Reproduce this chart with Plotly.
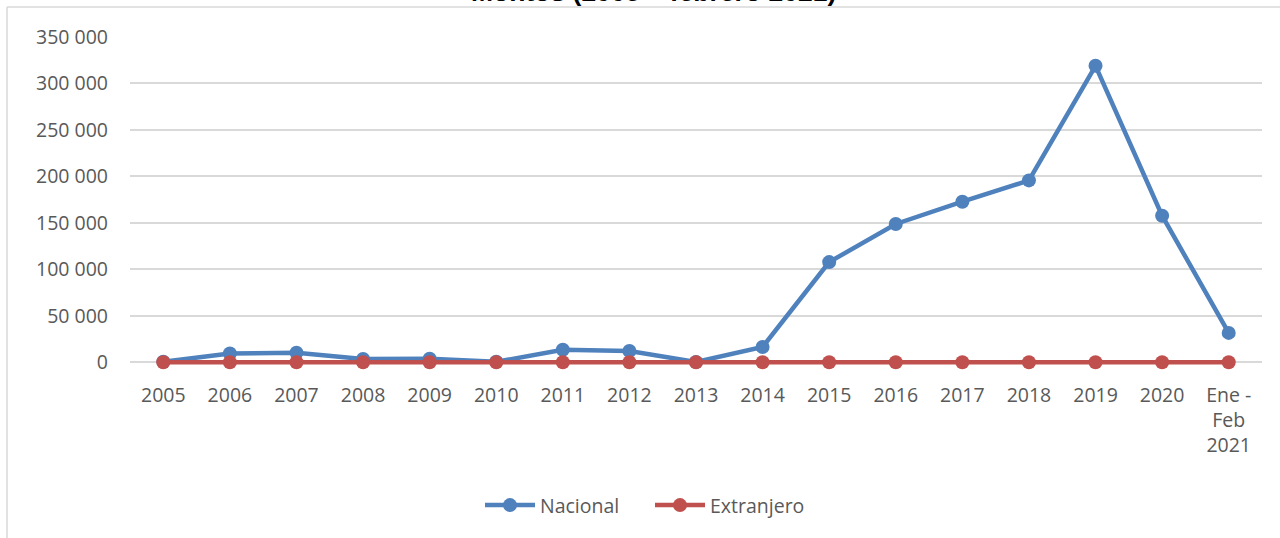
import plotly.graph_objects as go

# Categories and series values
years = ["2005", "2006", "2007", "2008", "2009", "2010", "2011", "2012",
         "2013", "2014", "2015", "2016", "2017", "2018", "2019", "2020",
         "Ene -<br>Feb<br>2021"]
nacional = [500, 9500, 10300, 3500, 3900, 500, 13500, 12200, 300, 16500,
            107800, 148800, 172800, 195700, 319000, 157700, 31600]
extranjero = [0] * 17
y_ticks = [0, 50000, 100000, 150000, 200000, 250000, 300000, 350000]

W, H = 1280, 538
Y_TOP_PX, Y_ZERO_PX = 37, 362          # pixel rows of 350 000 and 0
Y_MAX, Y_PAD = 350000, 4000            # small pad keeps the 0-level line unclipped
px_per_unit = (Y_ZERO_PX - Y_TOP_PX) / Y_MAX
L, R, T = 130, 18, Y_TOP_PX
B = H - (Y_ZERO_PX + Y_PAD * px_per_unit)
PW, PH = W - L - R, H - T - B


def px_x(x):
    return (x - L) / PW


def px_y(y):
    return (H - B - y) / PH


FONT = "Open Sans"
GREY = "#595959"
FS = 19.5

fig = go.Figure()
fig.add_trace(go.Scatter(
    x=years, y=nacional, name="Nacional", mode="lines+markers",
    line=dict(color="#4F81BD", width=4.5),
    marker=dict(color="#4F81BD", size=14),
    cliponaxis=False,
))
fig.add_trace(go.Scatter(
    x=years, y=extranjero, name="Extranjero", mode="lines+markers",
    line=dict(color="#C0504D", width=4.5),
    marker=dict(color="#C0504D", size=14),
    cliponaxis=False,
))

fig.update_layout(
    width=W, height=H,
    margin=dict(l=L, r=R, t=T, b=B),
    paper_bgcolor="white", plot_bgcolor="white",
    separators=", ",
    font=dict(family=FONT, size=FS, color=GREY),
    showlegend=True,
    legend=dict(orientation="h", x=px_x(650), xanchor="center",
                y=px_y(505), yanchor="middle", itemwidth=50,
                entrywidth=105,
                font=dict(family=FONT, size=FS, color=GREY)),
    xaxis=dict(type="category", range=[-0.5, 16.5], showgrid=False,
               showline=False, ticks="", zeroline=False,
               ticklabelstandoff=15,
               tickfont=dict(family=FONT, size=FS, color=GREY)),
    yaxis=dict(range=[-Y_PAD, Y_MAX], tickvals=y_ticks, tickformat=",d",
               showgrid=True, gridcolor="#d9d9d9", gridwidth=1.5,
               zeroline=False, showline=False, ticks="",
               ticklabelstandoff=21,
               tickfont=dict(family=FONT, size=FS, color=GREY)),
    annotations=[dict(
        text="<b>Montos (2005 – febrero 2021)</b>",
        xref="paper", yref="paper", x=px_x(653), y=px_y(9),
        xanchor="center", yanchor="bottom", showarrow=False,
        font=dict(family="Liberation Sans", size=26.5, color="black"),
    )],
    shapes=[
        dict(type="line", xref="paper", yref="paper",
             x0=px_x(7), x1=px_x(7), y0=px_y(7), y1=px_y(540),
             line=dict(color="#d9d9d9", width=1.5)),
        dict(type="line", xref="paper", yref="paper",
             x0=px_x(7), x1=px_x(1282), y0=px_y(7), y1=px_y(7),
             line=dict(color="#d9d9d9", width=1.5)),
    ],
)

fig.write_html("out.html")
